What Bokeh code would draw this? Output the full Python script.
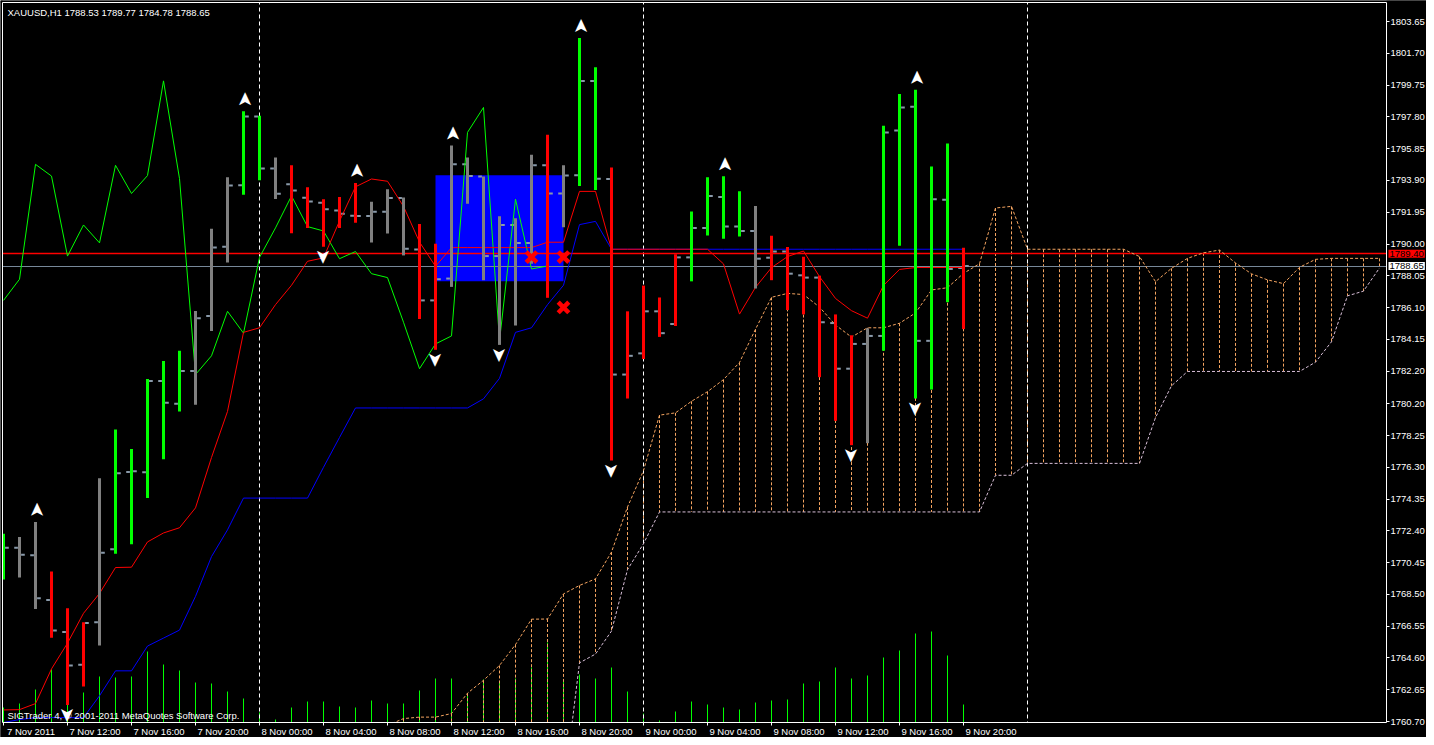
import math
from bokeh.plotting import figure
from bokeh.models import (Range1d, LinearAxis, FixedTicker, NumeralTickFormatter,
                          CustomJSTickFormatter, Label, Grid)
from bokeh.core.properties import value
from bokeh.embed import file_html
from bokeh.resources import INLINE

# ---------------- data ----------------
bar_idx = list(range(61))   # H1 bars, 7 Nov 08:00 .. 9 Nov 20:00
opens = [1770.20, 1771.36, 1770.90, 1768.15, 1766.20, 1764.19, 1766.79, 1771.27, 1776.01, 1776.00,
         1781.60, 1780.20, 1782.21, 1785.58, 1789.84, 1793.61, 1797.82, 1794.64, 1793.67, 1792.84,
         1792.53, 1792.06, 1791.74, 1791.72, 1791.98, 1792.83, 1789.67, 1786.54, 1787.88, 1794.89,
         1794.14, 1789.26, 1791.17, 1790.07, 1794.84, 1793.10, 1794.22, 1800.01, 1793.99, 1781.99,
         1783.29, 1785.87, 1785.09, 1789.18, 1790.99, 1792.89, 1791.07, 1790.80, 1789.16, 1789.54,
         1788.08, 1787.94, 1785.15, 1782.35, 1783.87, 1784.36, 1796.96, 1798.42, 1784.06, 1792.71,
         1788.53]
highs = [1772.22, 1772.03, 1772.95, 1769.90, 1767.65, 1766.79, 1775.63, 1778.62, 1777.42, 1781.72,
         1782.82, 1783.45, 1785.89, 1790.94, 1794.10, 1798.15, 1797.87, 1795.31, 1794.83, 1793.49,
         1792.75, 1792.89, 1793.75, 1792.59, 1793.36, 1792.86, 1791.23, 1790.01, 1796.04, 1795.31,
         1794.14, 1791.70, 1791.58, 1795.48, 1796.70, 1794.83, 1802.64, 1800.84, 1794.69, 1785.87,
         1787.45, 1786.72, 1789.38, 1792.00, 1794.09, 1794.16, 1793.24, 1792.33, 1790.50, 1789.81,
         1789.22, 1788.06, 1785.68, 1784.40, 1784.83, 1797.26, 1799.21, 1799.46, 1794.76, 1796.17,
         1789.77]
lows = [1769.41, 1769.54, 1767.60, 1765.84, 1761.72, 1762.85, 1765.36, 1771.00, 1771.57, 1774.41,
        1776.79, 1779.73, 1780.14, 1784.66, 1788.87, 1793.02, 1793.92, 1792.77, 1790.66, 1790.99,
        1789.83, 1790.99, 1791.31, 1790.09, 1790.64, 1789.30, 1785.40, 1783.51, 1787.37, 1792.47,
        1787.78, 1783.81, 1785.00, 1788.79, 1786.70, 1791.03, 1793.56, 1793.32, 1776.71, 1780.52,
        1782.94, 1784.30, 1784.97, 1787.71, 1790.52, 1790.33, 1790.46, 1787.27, 1787.78, 1785.95,
        1785.68, 1781.83, 1779.15, 1777.66, 1777.78, 1783.45, 1789.89, 1780.52, 1781.07, 1786.43,
        1784.78]
closes = [1771.36, 1770.94, 1768.27, 1766.29, 1764.13, 1766.75, 1771.06, 1775.93, 1776.06, 1781.60,
          1780.26, 1782.21, 1785.45, 1789.79, 1793.59, 1797.82, 1794.64, 1793.08, 1793.28, 1792.61,
          1792.13, 1791.86, 1791.72, 1791.98, 1792.83, 1789.71, 1786.54, 1787.84, 1794.89, 1794.17,
          1789.26, 1791.17, 1790.07, 1794.83, 1793.10, 1794.20, 1800.01, 1794.01, 1781.99, 1783.14,
          1785.87, 1784.53, 1789.18, 1790.99, 1792.95, 1791.07, 1790.80, 1789.10, 1789.54, 1788.18,
          1787.94, 1785.20, 1782.35, 1783.87, 1784.36, 1796.85, 1798.38, 1784.06, 1792.75, 1788.47,
          1788.65]
# bar colour state: U = up (lime), D = down (red), N = neutral (grey)
bar_state = ["U", "N", "N", "D", "D", "D", "N", "U", "U", "U",
             "U", "U", "N", "N", "N", "U", "U", "N", "D", "D",
             "D", "D", "D", "N", "N", "N", "D", "D", "N", "N",
             "N", "N", "N", "N", "D", "N", "U", "U", "D", "D",
             "D", "D", "D", "U", "U", "U", "U", "N", "D", "D",
             "D", "D", "D", "D", "N", "U", "U", "U", "U", "U",
             "D"]
volumes = [150, 190, 330, 530, 370, 300, 460, 450, 460, 710,
           580, 520, 400, 390, 310, 240, 100, 30, 150, 210,
           210, 160, 150, 220, 190, 190, 320, 440, 440, 290,
           430, 400, 440, 550, 800, 410, 480, 440, 550, 310,
           90, 20, 110, 210, 180, 150, 130, 200, 220, 230,
           390, 410, 550, 440, 470, 650, 720, 890, 910, 670,
           180]
tenkan = [1761.41, 1761.43, 1761.80, 1763.93, 1765.51, 1767.34, 1768.56, 1770.15, 1770.17, 1771.72,
          1772.27, 1772.59, 1773.81, 1776.90, 1779.73, 1784.58, 1784.86, 1786.28, 1787.47, 1788.94,
          1789.15, 1791.41, 1793.51, 1793.99, 1793.85, 1792.31, 1790.12, 1788.63, 1789.78, 1789.78,
          1789.78, 1789.78, 1789.78, 1789.78, 1790.11, 1790.11, 1793.23, 1793.23, 1789.68, 1789.68,
          1789.68, 1789.68, 1789.68, 1789.68, 1789.68, 1788.78, 1785.70, 1787.34, 1788.55, 1789.23,
          1789.57, 1788.00, 1786.66, 1785.91, 1785.45, 1787.46, 1788.44, 1788.56, 1788.56, 1788.56,
          1788.56]
kijun = [1760.64, 1760.82, 1760.94, 1760.94, 1760.94, 1760.94, 1762.28, 1763.81, 1763.81, 1765.33,
         1765.82, 1766.31, 1768.38, 1770.82, 1772.46, 1774.41, 1774.41, 1774.41, 1774.41, 1774.41,
         1776.30, 1778.13, 1779.94, 1779.94, 1779.94, 1779.94, 1779.94, 1779.94, 1779.94, 1779.94,
         1780.50, 1781.76, 1784.58, 1784.86, 1786.28, 1787.47, 1791.19, 1791.39, 1789.68, 1789.68,
         1789.68, 1789.68, 1789.68, 1789.68, 1789.68, 1789.68, 1789.68, 1789.68, 1789.68, 1789.68,
         1789.68, 1789.68, 1789.68, 1789.68, 1789.68, 1789.68, 1789.68, 1789.68, 1789.68, 1789.68,
         1789.68]
span_a_bars = list(range(24, 87))
span_a = [1760.46, 1760.88, 1760.97, 1760.97, 1761.19, 1762.44, 1763.23, 1764.14, 1765.42, 1766.98,
          1766.99, 1768.53, 1769.05, 1769.45, 1771.10, 1773.86, 1776.10, 1779.50, 1779.64, 1780.35,
          1780.94, 1781.68, 1782.73, 1784.77, 1786.73, 1786.97, 1786.90, 1786.13, 1785.03, 1784.29,
          1784.86, 1784.86, 1785.14, 1785.77, 1787.18, 1787.32, 1788.20, 1788.79, 1792.21, 1792.31,
          1789.68, 1789.68, 1789.68, 1789.68, 1789.68, 1789.68, 1789.68, 1789.23, 1787.69, 1788.51,
          1789.12, 1789.46, 1789.63, 1788.84, 1788.17, 1787.80, 1787.57, 1788.57, 1789.06, 1789.12,
          1789.12, 1789.12, 1789.12]
span_b_bars = list(range(35, 87))
span_b = [1756.31, 1764.30, 1764.84, 1766.25, 1770.02, 1771.61,
          1773.56, 1773.56, 1773.56, 1773.56, 1773.56, 1773.56, 1773.56, 1773.56, 1773.56, 1773.56,
          1773.56, 1773.56, 1773.56, 1773.56, 1773.56, 1773.56, 1773.56, 1773.56, 1773.56, 1773.56,
          1773.56,
          1775.81, 1775.81,
          1776.54, 1776.54, 1776.54, 1776.54, 1776.54, 1776.54, 1776.54, 1776.54,
          1779.35, 1781.30,
          1782.18, 1782.18, 1782.18, 1782.18, 1782.18, 1782.18, 1782.18, 1782.18,
          1782.75, 1784.00, 1786.82, 1787.11, 1788.53]
chikou_shift = 26

x_tick_bars = [0, 4, 8, 12, 16, 20, 24, 28, 32, 36, 40, 44, 48, 52, 56, 60]
x_tick_labels = ["7 Nov 2011", "7 Nov 12:00", "7 Nov 16:00", "7 Nov 20:00",
                 "8 Nov 00:00", "8 Nov 04:00", "8 Nov 08:00", "8 Nov 12:00",
                 "8 Nov 16:00", "8 Nov 20:00", "9 Nov 00:00", "9 Nov 04:00",
                 "9 Nov 08:00", "9 Nov 12:00", "9 Nov 16:00", "9 Nov 20:00"]
price_ticks = [1803.65, 1801.70, 1799.75, 1797.80, 1795.85, 1793.90, 1791.95, 1790.00,
               1788.05, 1786.10, 1784.15, 1782.20, 1780.20, 1778.25, 1776.30, 1774.35,
               1772.40, 1770.45, 1768.50, 1766.55, 1764.60, 1762.65, 1760.70]
day_sep_bars = [16, 40, 64]
up_fractal_bars = [2, 15, 22, 28, 36, 45, 57]
down_fractal_bars = [4, 20, 27, 31, 38, 53, 57]
cross_bars = [33, 35, 35]
cross_prices = [1789.20, 1789.20, 1786.11]
box_bars = [27, 35]
box_prices = [1787.71, 1794.22]
alert_price = 1789.40
bid_price = 1788.65
title_text = "XAUUSD,H1  1788.53 1789.77 1784.78 1788.65"
copyright_text = "SIGTrader 4, \u00a9 2001-2011 MetaQuotes Software Corp."

# ---------------- geometry / styling ----------------
W, H = 1426, 737
PX_BAR = 16.0            # pixels per H1 bar
BAR0_PX = 3.0            # pixel position of bar 0
CH_BOTTOM = 1760.64      # price at the lower chart edge
CH_TOP = 1804.82         # price at the upper chart edge
BOTTOM_PX, TOP_PX = 722.0, 2.0
PX_PRICE = (BOTTOM_PX - TOP_PX) / (CH_TOP - CH_BOTTOM)
X_START = -BAR0_PX / PX_BAR
X_END = (W - BAR0_PX) / PX_BAR
CH_LEFT = (2.0 - BAR0_PX) / PX_BAR
CH_RIGHT = (1386.0 - BAR0_PX) / PX_BAR
Y_START = CH_BOTTOM - (H - BOTTOM_PX) / PX_PRICE
Y_END = CH_TOP + TOP_PX / PX_PRICE
VOL_PER_PX = 10.0

FONT = "Liberation Sans"
FS = "9.5px"
state_color = {"U": "#00FF00", "D": "#FF0000", "N": "#808080"}
HATCH = "#F4A460"
TICK_COL = "#8A9AAA"

p = figure(width=W, height=H, x_range=Range1d(X_START, X_END), y_range=Range1d(Y_START, Y_END),
           output_backend="svg", toolbar_location=None,
           x_axis_location=None, y_axis_location=None,
           background_fill_color="black", border_fill_color="black",
           min_border_left=0, min_border_top=0, min_border_right=0, min_border_bottom=0)
p.outline_line_color = None
p.center = [r for r in p.center if not isinstance(r, Grid)]
p.extra_y_ranges = {"vol": Range1d(-(H - BOTTOM_PX) * VOL_PER_PX, BOTTOM_PX * VOL_PER_PX)}

# background object: blue rectangle
p.quad(left=[box_bars[0]], right=[box_bars[1]], bottom=[box_prices[0]], top=[box_prices[1]],
       fill_color="#0000FF", line_color=None)

# volumes
p.segment(x0=bar_idx, y0=[0] * len(bar_idx), x1=bar_idx, y1=volumes, y_range_name="vol",
          line_color="#00FF00", line_width=1)

# cloud hatch
hatch_low = [span_b[span_b_bars.index(b)] if b in span_b_bars else CH_BOTTOM for b in span_a_bars]
p.segment(x0=span_a_bars, y0=span_a, x1=span_a_bars, y1=hatch_low,
          line_color=HATCH, line_width=1, line_dash="3 2")

# day separators
p.vspan(x=day_sep_bars, line_color="white", line_width=1, line_dash="4 3")

# horizontal price lines
p.hspan(y=[alert_price], line_color="#FF0000", line_width=1.3)
p.hspan(y=[bid_price], line_color="#778899", line_width=1)

# senkou spans
p.line(span_a_bars, span_a, line_color=HATCH, line_width=1, line_dash="3 2")
p.line(span_b_bars, span_b, line_color="#D8BFD8", line_width=1, line_dash="3 2")

# bar open / close ticks
p.segment(x0=[b - 0.33 for b in bar_idx], y0=opens, x1=[b - 0.1 for b in bar_idx], y1=opens,
          line_color=TICK_COL, line_width=2)
p.segment(x0=[b + 0.1 for b in bar_idx], y0=closes, x1=[b + 0.33 for b in bar_idx], y1=closes,
          line_color=TICK_COL, line_width=2)

# ichimoku lines
chikou_x = [b - chikou_shift for b in bar_idx[chikou_shift:]]
p.line(chikou_x, closes[chikou_shift:], line_color="#00FF00", line_width=1)
p.line(bar_idx, kijun, line_color="#0000FF", line_width=1)
p.line(bar_idx, tenkan, line_color="#FF0000", line_width=1)

# coloured bars
p.segment(x0=bar_idx, y0=lows, x1=bar_idx, y1=highs,
          line_color=[state_color[s] for s in bar_state], line_width=3)

# fractals
p.text(x=up_fractal_bars, y=[highs[b] for b in up_fractal_bars], text=["\u27a4"] * len(up_fractal_bars),
       angle=math.pi / 2, y_offset=-12, text_align="center", text_baseline="middle",
       text_color="white", text_font=value("DejaVu Sans"), text_font_size="19px")
p.text(x=down_fractal_bars, y=[lows[b] for b in down_fractal_bars], text=["\u27a4"] * len(down_fractal_bars),
       angle=-math.pi / 2, y_offset=10, text_align="center", text_baseline="middle",
       text_color="white", text_font=value("DejaVu Sans"), text_font_size="19px")

# red crosses
p.scatter(x=cross_bars, y=cross_prices, marker="x", size=15, line_color="#FF0000", line_width=4.5)

# masks outside the chart window (axis areas)
p.quad(left=[X_START, CH_RIGHT, X_START, X_START], right=[CH_LEFT, X_END, X_END, X_END],
       bottom=[Y_START, Y_START, Y_START, CH_TOP], top=[Y_END, Y_END, CH_BOTTOM, Y_END],
       fill_color="black", line_color=None)

# ---------------- axes (fixed inside the canvas) ----------------
yax = LinearAxis(fixed_location=CH_RIGHT, bounds=(CH_BOTTOM, CH_TOP),
                 ticker=FixedTicker(ticks=price_ticks),
                 formatter=NumeralTickFormatter(format="0.00"))
yax.axis_line_color = "white"
yax.major_tick_line_color = "white"
yax.major_tick_out = 3
yax.major_tick_in = 0
yax.minor_tick_line_color = None
yax.major_label_standoff = 1
yax.major_label_text_color = "white"
yax.major_label_text_font = FONT
yax.major_label_text_font_size = FS
p.add_layout(yax, "right")

label_shift = 1.72   # labels start just right of their tick
xax = LinearAxis(fixed_location=CH_BOTTOM, bounds=(CH_LEFT, CH_RIGHT),
                 ticker=FixedTicker(ticks=[b + label_shift for b in x_tick_bars], minor_ticks=x_tick_bars),
                 formatter=CustomJSTickFormatter(args=dict(labels=x_tick_labels),
                                                 code="return labels[index];"))
xax.axis_line_color = "white"
xax.major_tick_line_color = None
xax.major_tick_out = 0
xax.major_tick_in = 0
xax.minor_tick_line_color = "white"
xax.minor_tick_out = 3
xax.minor_tick_in = 0
xax.major_label_standoff = 0
xax.major_label_text_color = "white"
xax.major_label_text_font = FONT
xax.major_label_text_font_size = FS
p.add_layout(xax, "below")

for loc, side, bnds in [(CH_LEFT, "left", (CH_BOTTOM, CH_TOP)), (CH_TOP, "above", (CH_LEFT, CH_RIGHT))]:
    ax = LinearAxis(fixed_location=loc, bounds=bnds, ticker=FixedTicker(ticks=[]))
    ax.axis_line_color = "white"
    ax.major_tick_line_color = None
    ax.minor_tick_line_color = None
    ax.major_label_text_font_size = "0px"
    p.add_layout(ax, side)

# ---------------- texts ----------------
p.add_layout(Label(x=CH_LEFT, y=CH_TOP, x_offset=5, y_offset=-4, text=title_text, text_color="white",
                   text_font=FONT, text_font_size=FS, text_baseline="top", text_align="left"))
p.add_layout(Label(x=CH_LEFT, y=CH_BOTTOM, x_offset=5, y_offset=7, text=copyright_text, text_color="white",
                   text_font=FONT, text_font_size=FS, text_baseline="middle", text_align="left"))
p.add_layout(Label(x=CH_RIGHT, y=alert_price, x_offset=2, text="%.2f" % alert_price, text_color="black",
                   text_font=FONT, text_font_size=FS, text_baseline="middle", text_align="left",
                   background_fill_color="#FF0000", padding=1))
p.add_layout(Label(x=CH_RIGHT, y=bid_price, x_offset=2, text="%.2f" % bid_price, text_color="black",
                   text_font=FONT, text_font_size=FS, text_baseline="middle", text_align="left",
                   background_fill_color="white", padding=1))

open("out.html", "w").write(file_html(p, INLINE))
